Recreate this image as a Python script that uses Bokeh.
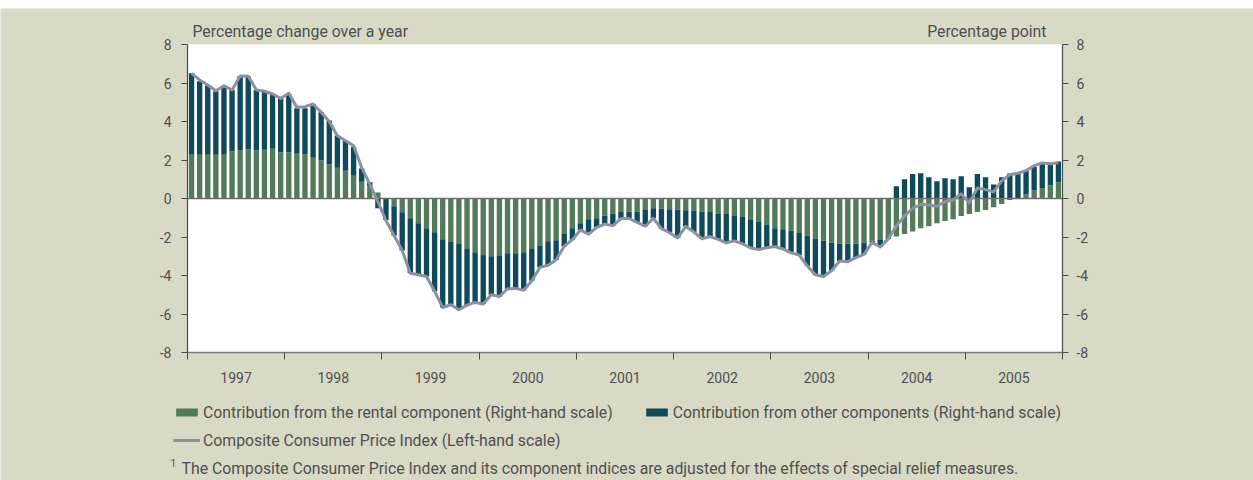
import numpy as np
from bokeh.plotting import figure
from bokeh.models import (Range1d, LinearAxis, FixedTicker, Label, Legend,
                          LegendItem, ColumnDataSource, BoxAnnotation)
from bokeh.embed import file_html
from bokeh.resources import INLINE

# ---------------- data (monthly, Jan 1997 - Dec 2005) ----------------
years = ["1997", "1998", "1999", "2000", "2001", "2002", "2003", "2004", "2005"]

rental = [
    2.27, 2.27, 2.27, 2.27, 2.27, 2.45, 2.52, 2.55, 2.50, 2.53, 2.59, 2.40,
    2.40, 2.33, 2.29, 2.12, 1.98, 1.77, 1.60, 1.44, 1.18, 0.87, 0.64, 0.31,
    -0.02, -0.40, -0.71, -1.02, -1.29, -1.55, -1.75, -2.12, -2.26, -2.36, -2.62, -2.79,
    -2.94, -3.00, -2.95, -2.84, -2.85, -2.79, -2.62, -2.47, -2.22, -2.17, -1.84, -1.55,
    -1.29, -1.08, -1.02, -0.90, -0.80, -0.70, -0.69, -0.68, -0.60, -0.50, -0.52, -0.56,
    -0.58, -0.61, -0.62, -0.67, -0.70, -0.80, -0.80, -0.91, -0.96, -1.08, -1.22, -1.38,
    -1.55, -1.60, -1.68, -1.79, -1.93, -2.08, -2.19, -2.30, -2.35, -2.35, -2.35, -2.29,
    -2.20, -2.15, -2.05, -1.97, -1.85, -1.72, -1.55, -1.44, -1.28, -1.17, -1.08, -0.91,
    -0.80, -0.70, -0.60, -0.45, -0.29, -0.08, 0.03, 0.22, 0.42, 0.52, 0.68, 0.85,
]

other = [
    4.24, 3.82, 3.60, 3.30, 3.51, 3.19, 3.83, 3.79, 3.14, 3.04, 2.84, 2.79,
    3.03, 2.36, 2.40, 2.79, 2.50, 2.28, 1.66, 1.56, 1.51, 0.69, 0.21, -0.50,
    -1.10, -1.52, -1.99, -2.86, -2.67, -2.50, -3.07, -3.54, -3.26, -3.42, -2.92, -2.61,
    -2.54, -2.00, -2.14, -1.85, -1.82, -1.98, -1.65, -1.11, -1.25, -1.01, -0.64, -0.59,
    -0.35, -0.77, -0.48, -0.43, -0.61, -0.34, -0.35, -0.56, -0.84, -0.53, -1.04, -1.22,
    -1.47, -0.84, -1.12, -1.42, -1.28, -1.32, -1.50, -1.29, -1.39, -1.49, -1.43, -1.18,
    -0.95, -1.02, -1.14, -1.15, -1.57, -1.88, -1.86, -1.45, -0.90, -0.93, -0.72, -0.61,
    -0.08, -0.37, -0.05, 0.63, 1.00, 1.27, 1.31, 1.10, 0.90, 1.05, 1.00, 1.16,
    0.58, 1.27, 1.10, 0.73, 1.10, 1.30, 1.26, 1.22, 1.22, 1.30, 1.10, 1.07,
]

cpi = [
    6.50, 6.16, 5.90, 5.60, 5.85, 5.64, 6.37, 6.35, 5.64, 5.57, 5.43, 5.20,
    5.47, 4.74, 4.77, 4.91, 4.48, 4.00, 3.26, 3.00, 2.74, 1.60, 0.75, -0.17,
    -1.15, -1.92, -2.70, -3.88, -3.96, -4.05, -4.82, -5.66, -5.52, -5.78, -5.54, -5.40,
    -5.48, -5.00, -5.09, -4.69, -4.67, -4.77, -4.27, -3.58, -3.47, -3.18, -2.48, -2.14,
    -1.64, -1.85, -1.50, -1.33, -1.41, -1.04, -1.04, -1.24, -1.44, -1.03, -1.56, -1.78,
    -2.05, -1.45, -1.74, -2.09, -1.98, -2.12, -2.30, -2.20, -2.35, -2.57, -2.65, -2.56,
    -2.50, -2.62, -2.82, -2.94, -3.50, -3.96, -4.05, -3.75, -3.25, -3.28, -3.07, -2.90,
    -2.28, -2.52, -2.10, -1.42, -0.90, -0.52, -0.30, -0.34, -0.40, -0.17, -0.08, 0.24,
    -0.24, 0.55, 0.46, 0.34, 0.92, 1.23, 1.31, 1.45, 1.70, 1.85, 1.80, 1.86,
]

y_ticks = [-8, -6, -4, -2, 0, 2, 4, 6, 8]
y_tick_labels = ["-8", "-6", "-4", "-2", "0", "2", "4", "6", "8"]

title_left = "Percentage change over a year"
title_right = "Percentage point"
label_rental = "Contribution from the rental component (Right-hand scale)"
label_other = "Contribution from other components (Right-hand scale)"
label_cpi = "Composite Consumer Price Index (Left-hand scale)"
footnote_mark = "1"
footnote = ("The Composite Consumer Price Index and its component indices are "
            "adjusted for the effects of special relief measures.")

# ---------------- layout (pixels on the page) ----------------
W, H, TOP = 1253, 472, 8           # figure size and its top offset on the page
PL, PR = 187, 1062                 # plot area left / right (page px)
PT, PB = 44, 352                   # plot area top / bottom (page px)
YMIN, YMAX = y_ticks[0], y_ticks[-1]

first_year = int(years[0])
last_year = first_year + len(years)
ppy = (PR - PL) / len(years)                 # px per year
ppu = (PB - PT) / (YMAX - YMIN)              # px per unit
x_lo = first_year - PL / ppy
x_hi = last_year + (W - PR) / ppy
y_hi = YMAX + (PT - TOP) / ppu
y_lo = YMIN - (TOP + H - PB) / ppu


def px_to_x(px):
    return first_year + (px - PL) / ppy


def py_to_y(py):
    return YMAX - (py - PT) / ppu


# ---------------- derived series ----------------
n = len(rental)
x = first_year + (np.arange(n) + 0.5) / 12.0
r = np.array(rental)
o = np.array(other)
same = np.sign(r) == np.sign(o)
o_bottom = np.where(same, r, 0.0)
o_top = o_bottom + o

src = ColumnDataSource(dict(x=x, r=r, zero=np.zeros(n), ob=o_bottom, ot=o_top,
                            cpi=np.array(cpi)))

BG = "#D9DAC6"
GREEN = "#537B5A"
TEAL = "#0E495C"
GREY = "#8C90A2"
TXT = "#4f4f4f"
AX = "#4a4a4a"
FONT = "Roboto"
FS = "15.8px"

p = figure(width=W, height=H, margin=(TOP, 0, 0, 0),
           output_backend="svg", toolbar_location=None, title_location=None,
           x_range=Range1d(x_lo, x_hi), y_range=Range1d(y_lo, y_hi),
           x_axis_type=None, y_axis_type=None, min_border=0)
p.border_fill_color = BG
p.background_fill_color = BG
p.outline_line_color = None
p.extra_y_ranges = {"right": Range1d(y_lo, y_hi)}

# white plotting area
p.add_layout(BoxAnnotation(left=first_year, right=last_year, bottom=YMIN, top=YMAX,
                           fill_color="white", fill_alpha=1.0, line_color=None,
                           level="underlay"))

bw = 0.66 / 12
r_rental = p.vbar(x="x", bottom="zero", top="r", width=bw, source=src,
                  fill_color=GREEN, line_color=None, y_range_name="right")
r_other = p.vbar(x="x", bottom="ob", top="ot", width=bw, source=src,
                 fill_color=TEAL, line_color=None, y_range_name="right")
p.line(x=[first_year, last_year], y=[0, 0], line_color="#6e6e6e", line_width=1.5)
r_cpi = p.line(x="x", y="cpi", source=src, line_color=GREY, line_width=3,
               line_join="round")

# axes (fixed at the edges of the plotting area)
overrides = {t: s for t, s in zip(y_ticks, y_tick_labels)}
yl = LinearAxis(ticker=FixedTicker(ticks=y_ticks), fixed_location=first_year,
                bounds=(YMIN, YMAX), major_label_overrides=overrides)
yr = LinearAxis(y_range_name="right", ticker=FixedTicker(ticks=y_ticks),
                fixed_location=last_year, bounds=(YMIN, YMAX),
                major_label_overrides=overrides)
p.add_layout(yl, "left")
p.add_layout(yr, "right")
for ax, st in ((yl, 10), (yr, 8)):
    ax.axis_line_color = AX
    ax.axis_line_width = 1.2
    ax.major_tick_line_color = AX
    ax.major_tick_in = 0
    ax.major_tick_out = 6
    ax.minor_tick_line_color = None
    ax.major_label_standoff = st
    ax.major_label_text_font = FONT
    ax.major_label_text_font_size = "14px"
    ax.major_label_text_color = TXT

mids = [first_year + i + 0.5 for i in range(len(years))]
bounds = [first_year + i for i in range(len(years) + 1)]
xa = LinearAxis(ticker=FixedTicker(ticks=mids, minor_ticks=bounds), fixed_location=YMIN,
                bounds=(first_year, last_year),
                major_label_overrides={m: y for m, y in zip(mids, years)})
p.add_layout(xa, "below")
xa.major_tick_line_color = None
xa.major_tick_in = 0
xa.major_tick_out = 0
xa.minor_tick_line_color = AX
xa.minor_tick_in = 0
xa.minor_tick_out = 7
xa.axis_line_color = "#7a7a7a"
xa.axis_line_width = 1.5
xa.major_label_standoff = 12
xa.major_label_text_font = FONT
xa.major_label_text_font_size = "14px"
xa.major_label_text_color = TXT

# headings
head_y = py_to_y(31)
p.add_layout(Label(x=px_to_x(192), y=head_y, text=title_left, text_baseline="middle",
                   text_font=FONT, text_font_size=FS, text_color=TXT))
p.add_layout(Label(x=px_to_x(1046), y=head_y, text=title_right, text_baseline="middle",
                   text_align="right", text_font=FONT, text_font_size=FS, text_color=TXT))

# legends (location: px from frame left / frame bottom)
leg_kw = dict(padding=0, margin=0, glyph_width=27, glyph_height=10, label_standoff=3,
              label_text_font=FONT, label_text_font_size=FS, label_text_color=TXT,
              label_height=20, background_fill_alpha=0, border_line_alpha=0)
frame_bottom = TOP + H
leg1 = Legend(items=[LegendItem(label=label_rental, renderers=[r_rental]),
                     LegendItem(label=label_other, renderers=[r_other])],
              orientation="horizontal", spacing=30,
              location=(173, frame_bottom - 422), **leg_kw)
leg2 = Legend(items=[LegendItem(label=label_cpi, renderers=[r_cpi])],
              orientation="horizontal", location=(173, frame_bottom - 450), **leg_kw)
p.add_layout(leg1)
p.add_layout(leg2)

# footnote
p.add_layout(Label(x=px_to_x(170), y=py_to_y(462), text=footnote_mark,
                   text_baseline="middle", text_font=FONT, text_font_size="10px",
                   text_color=TXT))
p.add_layout(Label(x=px_to_x(181), y=py_to_y(468), text=footnote, text_baseline="middle",
                   text_font=FONT, text_font_size=FS, text_color=TXT))

open("out.html", "w").write(file_html(p, INLINE))
